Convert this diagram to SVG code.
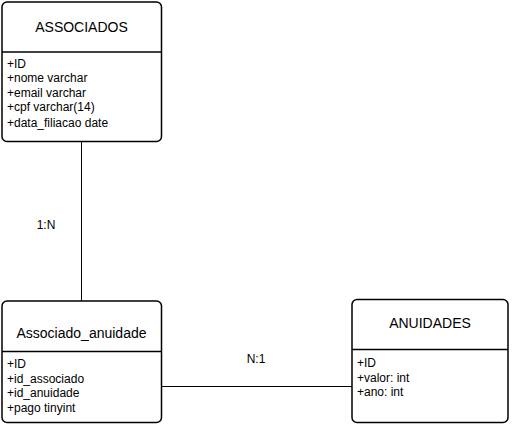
<svg xmlns="http://www.w3.org/2000/svg" width="512" height="425" viewBox="0 0 512 425">
<style>
.box{fill:#fff;stroke:#000;stroke-width:1.5}
.div{stroke:#000;stroke-width:1.5}
.title{font-family:"Liberation Sans",Arial,sans-serif;font-size:14px;text-anchor:middle;fill:#000}
.attr{font-family:"Liberation Sans",Arial,sans-serif;font-size:12px;fill:#000}
.conn{stroke:#000;stroke-width:1;fill:none}
.lbl{font-family:"Liberation Sans",Arial,sans-serif;font-size:12px;text-anchor:middle;fill:#000}
</style>
<rect width="512" height="425" fill="#fff"/>
<g id="connectors">
<line class="conn" x1="81.5" y1="142" x2="81.5" y2="301"/>
<line class="conn" x1="162" y1="386.5" x2="352" y2="386.5"/>
<text class="lbl" x="46" y="229">1:N</text>
<text class="lbl" x="256" y="363">N:1</text>
</g>
<g id="associados">
<rect class="box" x="2" y="2" width="159.5" height="139.5" rx="5"/>
<line class="div" x1="2" y1="52" x2="161.5" y2="52"/>
<text class="title" x="81.5" y="32">ASSOCIADOS</text>
<text class="attr" x="7" y="67.5">+ID</text>
<text class="attr" x="7" y="82">+nome varchar</text>
<text class="attr" x="7" y="96.5">+email varchar</text>
<text class="attr" x="7" y="111">+cpf varchar(14)</text>
<text class="attr" x="7" y="126.5">+data_filiacao date</text>
</g>
<g id="associado_anuidade">
<rect class="box" x="2" y="301" width="159.5" height="121.5" rx="5"/>
<line class="div" x1="2" y1="351.5" x2="161.5" y2="351.5"/>
<text class="title" x="81.5" y="338">Associado_anuidade</text>
<text class="attr" x="7" y="367.5">+ID</text>
<text class="attr" x="7" y="382.5">+id_associado</text>
<text class="attr" x="7" y="397">+id_anuidade</text>
<text class="attr" x="7" y="411.5">+pago tinyint</text>
</g>
<g id="anuidades">
<rect class="box" x="352" y="299.5" width="156" height="123" rx="5"/>
<line class="div" x1="352" y1="349.5" x2="508" y2="349.5"/>
<text class="title" x="430" y="328">ANUIDADES</text>
<text class="attr" x="357" y="367">+ID</text>
<text class="attr" x="357" y="381.5">+valor: int</text>
<text class="attr" x="357" y="396">+ano: int</text>
</g>
</svg>
